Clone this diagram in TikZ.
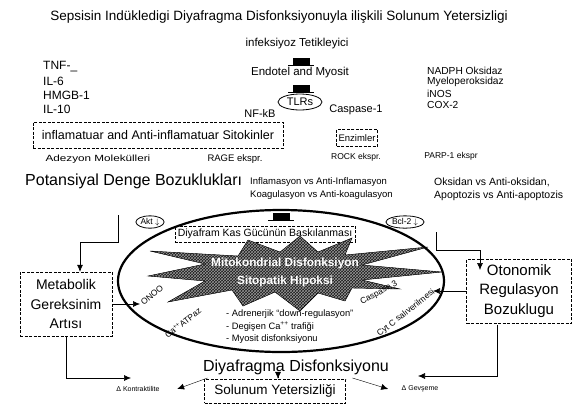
\documentclass[tikz,border=0pt]{standalone}
\usepackage{fontspec}
\setmainfont{Liberation Sans}
\newfontfamily\genis[FakeStretch=1.3]{Liberation Sans}
\usepackage{tikz}
\usetikzlibrary{positioning, arrows.meta, shapes.geometric, patterns}
\definecolor{yildiz}{RGB}{25,25,25}
\definecolor{tarama}{RGB}{150,150,150}

\newcommand{\fsBaslik}{\fontsize{13.5}{15}\selectfont}
\newcommand{\fsOrta}{\fontsize{11}{13}\selectfont}
\newcommand{\fsBuyuk}{\fontsize{14}{19.5}\selectfont}
\newcommand{\fsKucuk}{\fontsize{8.5}{10}\selectfont}
\newcommand{\fsCift}{\fontsize{9.5}{13}\selectfont}
\newcommand{\fsMini}{\fontsize{7}{8}\selectfont}

\tikzset{
  kesik/.style={draw, dashed, dash pattern=on 3pt off 1.5pt, thin},
  blok/.style={fill=black, minimum width=17, minimum height=7, inner sep=0pt},
  ok/.style={-{Latex[length=7pt, width=6pt]}, semithick},
  etiket/.style={font=\fsKucuk, inner sep=0.5pt},
  kutucuk/.style={ellipse, draw, thick, inner sep=0.5pt, font=\fsKucuk}
}

\begin{document}
\begin{tikzpicture}[x=1pt, y=-1pt, font=\fsOrta]
  \useasboundingbox (0,0) rectangle (586,405);
  % baslik
  \node[font=\fsBaslik] (baslik) at (279,17)
    {Sepsisin Indükledigi Diyafragma Disfonksiyonuyla ilişkili Solunum Yetersizligi};
  % tetikleyici zinciri
  \node[font=\fontsize{11.5}{13}\selectfont] (tetik) at (297,44) {infeksiyoz Tetikleyici};
  \node[blok] (b1) at (301,61) {};
  \draw ([xshift=-4]b1.south west) -- ([xshift=4]b1.south east);
  \node[font=\fontsize{11.5}{13}\selectfont] (endotel) at (300,73) {Endotel and Myosit};
  \node[blok] (b2) at (301,88) {};
  \draw ([xshift=-4]b2.south west) -- ([xshift=4]b2.south east);
  \node[ellipse, draw, thick, minimum width=44, minimum height=16, inner sep=0pt] (tlr) at (300,102) {TLRs};
  \node (nfkb) at (260,114) {NF-kB};
  \node (casp1) at (356,110) {Caspase-1};
  % sitokinler
  \foreach \ad/\y/\n in {{TNF-\_}/67/1, IL-6/81/2, HMGB-1/95/3, IL-10/109/4}{
    \node[anchor=west, inner sep=0pt, font=\fontsize{12}{14}\selectfont] (sit\n) at (43,\y) {\ad};
  }
  % enzimler
  \foreach \ad/\y/\n in {NADPH Oksidaz/71/1, Myeloperoksidaz/82/2, iNOS/94/3, COX-2/105/4}{
    \node[anchor=west, inner sep=0pt, font=\fontsize{10.2}{12}\selectfont] (enz\n) at (427,\y) {\ad};
  }
  \node[kesik, minimum width=250, minimum height=26, inner sep=2pt, font=\fontsize{12.5}{14}\selectfont]
    (sitkutu) at (158,135) {inflamatuar and Anti-inflamatuar Sitokinler};
  \node[kesik, minimum width=38, minimum height=17, inner sep=2pt, font=\fontsize{9.5}{11}\selectfont]
    (enzkutu) at (357,138) {Enzimler};
  \node[etiket, font=\fontsize{9}{10}\genis] (adez) at (98,159) {Adezyon Molekülleri};
  \node[etiket, font=\fontsize{9.5}{10}\selectfont] (rage) at (235,159) {RAGE ekspr.};
  \node[etiket] (rock) at (356,157) {ROCK ekspr.};
  \node[etiket] (parp) at (451,156) {PARP-1 ekspr};
  % denge bozukluklari
  \node[anchor=west, font=\fontsize{16}{18}\selectfont, inner sep=0pt] (potan) at (25,181)
    {Potansiyal Denge Bozuklukları};
  \node[anchor=west, align=left, font=\fsCift, inner sep=0pt] (inflam) at (250,189)
    {Inflamasyon vs Anti-Inflamasyon\\Koagulasyon vs Anti-koagulasyon};
  \node[anchor=west, align=left, font=\fontsize{10.5}{13}\selectfont, inner sep=0pt] (oksid) at (434,189)
    {Oksidan vs Anti-oksidan,\\Apoptozis vs Anti-apoptozis};
  \node[kutucuk] (akt) at (150,222) {Akt $\downarrow$};
  \node[kutucuk] (bcl) at (405,222) {Bcl-2 $\downarrow$};
  \node[blok] (b3) at (281,216) {};
  \draw ([xshift=-4]b3.south west) -- ([xshift=4]b3.south east);
  % buyuk elips
  \draw[line width=2.2pt] (281,281) ellipse [x radius=163, y radius=71];
  \node[kesik, font=\fontsize{10.5}{12}\selectfont, inner sep=3pt] (kas) at (265,234)
    {Diyafram Kas Gücünün Baskılanması};
  % yildiz
  \def\yildizyol{(150,251) -- (205,264) -- (148,276) -- (205,281) -- (168,302) -- (232,290)
    -- (243,306) -- (275,292) -- (300,311) -- (318,293) -- (345,301) -- (352,288)
    -- (400,289) -- (362,280) -- (442,272) -- (362,265) -- (428,247) -- (345,255)
    -- (352,238) -- (318,252) -- (300,236) -- (280,252) -- (248,240) -- (238,256) -- cycle}
  \fill[yildiz] \yildizyol;
  \fill[pattern=crosshatch, pattern color=tarama] \yildizyol;
  \draw[thin] \yildizyol;
  \node[text=white, align=center, font=\fontsize{11.8}{18}\selectfont\bfseries] (mito) at (285,272)
    {Mitokondrial Disfonksiyon\\Sitopatik Hipoksi};
  \node[etiket, rotate=40] (onoo) at (152,295) {ONOO};
  \node[etiket, rotate=38] (atpaz) at (183,323) {Ca\textsuperscript{++}ATPaz};
  \node[etiket, rotate=28] (casp3) at (379,293) {Caspase 3};
  \node[etiket, rotate=38] (cytc) at (406,313) {Cyt C salıverilmesi};
  \node[anchor=west, align=left, font=\fontsize{9.3}{12.5}\selectfont, inner sep=0pt] (liste) at (226,327)
    {- Adrenerjik ``down-regulasyon''\\- Degişen Ca\textsuperscript{++} trafiği\\- Myosit disfonksiyonu};
  % yan kutular
  \node[kesik, font=\fsBuyuk, align=center, minimum width=92, minimum height=64] (metab) at (66,304)
    {Metabolik\\Gereksinim\\Artısı};
  \node[kesik, font=\fontsize{15}{19.5}\selectfont, align=center, minimum width=105, minimum height=64]
    (oto) at (519,291) {Otonomik\\Regulasyon\\Bozuklugu};
  % alt kisim
  \node[font=\fontsize{16}{18}\selectfont] (diydis) at (296,367) {Diyafragma Disfonksiyonu};
  \node[kesik, font=\fontsize{13.5}{15}\selectfont, minimum width=141, minimum height=24, inner sep=1pt]
    (solunum) at (275,391) {Solunum Yetersizliği};
  \node[font=\fsMini] (kontr) at (138,389) {Δ Kontraktilite};
  \node[font=\fsMini] (gev) at (420,389) {Δ Gevşeme};
  % baglantilar
  \coordinate (potalt) at (118,215);
  \coordinate (metabust) at (80,242);
  \coordinate (elsol) at (140,0);
  \coordinate (kontrok) at (131,378);
  \coordinate (apoalt) at (436,232);
  \coordinate (otoust) at (480,250);
  \coordinate (otook) at (480,270);
  \coordinate (elsag) at (433,0);
  \coordinate (otoalt) at (497,325);
  \coordinate (gevok) at (418,376);
  \draw[ok] (potalt) |- (metabust) -- (metabust |- metab.north);
  \draw[ok] (metab.east) -- (metab.east -| elsol);
  \draw[ok] (metab.south) |- (kontrok);
  \draw[ok] (apoalt) |- (otoust) -- (otook);
  \draw[ok] (oto.west) -- (oto.west -| elsag);
  \draw[ok] (otoalt) |- (gevok);
  \draw[ok, thin] ([xshift=8]diydis.south west) -- ([xshift=14]kontr.east);
  \draw[ok, thin] ([xshift=-18]diydis.south) -- ([xshift=-18]diydis.south |- solunum.north);
  \draw[ok, thin] ([xshift=-40]diydis.south east) -- ([xshift=-10]gev.west);
\end{tikzpicture}
\end{document}
